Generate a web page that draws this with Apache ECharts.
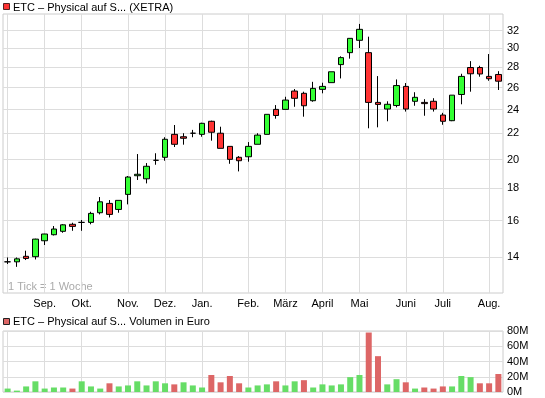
<!DOCTYPE html>
<html>
<head>
<meta charset="utf-8">
<script src="https://cdn.jsdelivr.net/npm/echarts@6/dist/echarts.min.js"></script>
<style>
html,body{margin:0;padding:0;background:#fff;}
#c{width:545px;height:398px;}
</style>
</head>
<body>
<div id="c"></div>
<script>
// Weekly candles (week start dates)
const weeks = [
  '2010-08-02','2010-08-09','2010-08-16','2010-08-23','2010-08-30','2010-09-06','2010-09-13','2010-09-20','2010-09-27','2010-10-04',
  '2010-10-11','2010-10-18','2010-10-25','2010-11-01','2010-11-08','2010-11-15','2010-11-22','2010-11-29','2010-12-06','2010-12-13',
  '2010-12-20','2010-12-27','2011-01-03','2011-01-10','2011-01-17','2011-01-24','2011-01-31','2011-02-07','2011-02-14','2011-02-21',
  '2011-02-28','2011-03-07','2011-03-14','2011-03-21','2011-03-28','2011-04-04','2011-04-11','2011-04-18','2011-04-25','2011-05-02',
  '2011-05-09','2011-05-16','2011-05-23','2011-05-30','2011-06-06','2011-06-13','2011-06-20','2011-06-27','2011-07-04','2011-07-11',
  '2011-07-18','2011-07-25','2011-08-01','2011-08-08'
];
const opens = [13.77,13.77,14.05,14.03,14.87,15.20,15.39,15.79,15.90,15.90,
  16.47,17.04,16.67,17.61,18.85,18.64,19.94,20.16,21.92,21.73,
  22.01,21.92,22.99,22.01,20.98,20.16,20.20,21.14,21.92,24.01,
  24.01,25.67,25.46,24.78,25.83,26.47,28.27,29.53,30.89,29.53,
  24.63,24.04,24.35,26.11,24.73,24.63,24.73,23.52,23.04,25.35,
  27.97,27.97,27.08,27.27];
const closes = [13.77,13.92,13.94,14.96,15.24,15.52,15.76,15.67,15.90,16.43,
  17.14,16.37,17.23,18.76,18.95,19.51,19.94,21.53,21.14,21.61,
  22.01,22.82,22.09,20.83,20.01,19.91,20.98,21.86,23.58,23.48,
  24.84,25.00,24.33,25.92,26.11,27.54,29.00,31.11,32.15,24.63,
  24.45,24.46,26.19,24.04,25.09,24.52,24.04,22.99,25.29,27.08,
  27.34,27.32,26.85,26.61];
const lows = [13.66,13.52,13.86,13.89,14.64,15.16,15.31,15.42,15.42,15.79,
  16.37,16.19,16.47,16.98,18.56,18.33,19.62,19.91,20.93,21.11,
  21.69,21.73,21.42,20.83,19.69,19.15,19.84,21.14,21.92,23.21,
  24.01,24.24,23.38,24.69,25.46,26.47,26.88,28.89,30.03,22.41,
  22.49,22.99,24.19,23.82,24.33,23.46,23.82,22.70,23.00,24.46,
  25.61,27.05,26.65,25.77];
const highs = [13.99,13.99,14.34,14.98,15.25,15.69,15.80,15.88,16.04,16.53,
  17.44,17.25,17.23,18.83,20.40,19.74,20.46,21.69,22.68,22.01,
  22.28,22.87,23.04,22.54,20.98,20.25,21.31,22.01,23.58,24.39,
  25.14,25.86,25.61,26.55,26.46,27.54,29.14,31.11,32.79,31.30,
  27.11,24.73,26.78,26.43,25.56,24.92,25.01,23.71,25.29,27.34,
  28.63,28.15,29.38,27.60];
// Volume in Mio. Euro
const volumes = [4.5,1.8,7.3,14,4.5,5.9,5.9,4.5,14,7.3,
  4.5,11.4,7.3,8.6,14,8.6,14,11.4,10,12.7,
  8.6,5.9,22.3,12.7,21,11.4,5.9,8.6,10,14,
  8.6,14,15.5,5.9,10,8.6,10,19.5,22.3,78,
  47,10,16.8,12.7,4.5,5.9,4.5,7.3,7.3,21,
  19.5,11.4,11.4,23.6];
// Month gridlines (index of the week containing the 1st of the month)
const monthIdx = [0,4,8,13,17,21,26,30,34,38,43,47,52];
const monthNames = ['','Sep.','Okt.','Nov.','Dez.','Jan.','Feb.','März','April','Mai','Juni','Juli','Aug.'];
const priceTicks = [14,16,18,20,22,24,26,28,30,32];
const volumeTicks = [0,20,40,60,80];

const FONT = '"Liberation Sans", Arial, sans-serif';
const candleData = weeks.map((w, i) => [opens[i], closes[i], lows[i], highs[i]]);
const volData = volumes.map((v, i) => ({
  value: v,
  itemStyle: { color: (i === 0 || closes[i] >= closes[i - 1]) ? '#66dd66' : '#dd6666' }
}));
const isMonth = (i) => monthIdx.indexOf(i) >= 0;

function xAxis(gridIndex, showLabels) {
  return {
    type: 'category', gridIndex: gridIndex, data: weeks, boundaryGap: true,
    axisLine: { show: false }, axisTick: { show: false },
    axisLabel: {
      show: showLabels,
      interval: (i) => isMonth(i) && monthNames[monthIdx.indexOf(i)] !== '',
      formatter: (v, i) => monthNames[monthIdx.indexOf(i)] || '',
      color: '#000', fontSize: 11, fontFamily: FONT, margin: 5
    },
    splitLine: { show: true, interval: (i) => isMonth(i), alignWithLabel: true, lineStyle: { color: '#dddddd', width: 1 } }
  };
}

const chart = echarts.init(document.getElementById('c'), null, { renderer: 'canvas' });
chart.setOption({
  animation: false,
  backgroundColor: '#ffffff',
  title: [
    { text: 'ETC – Physical auf S... (XETRA)', left: 13, top: 2, padding: 0,
      textStyle: { fontSize: 11, fontWeight: 'normal', color: '#000', fontFamily: FONT } },
    { text: 'ETC – Physical auf S... Volumen in Euro', left: 13, top: 316, padding: 0,
      textStyle: { fontSize: 11, fontWeight: 'normal', color: '#000', fontFamily: FONT } }
  ],
  graphic: [
    { type: 'rect', shape: { x: 3.5, y: 3.5, width: 6, height: 6 }, style: { fill: '#ff3333', stroke: '#552222', lineWidth: 1 } },
    { type: 'rect', shape: { x: 3.5, y: 318.5, width: 6, height: 6 }, style: { fill: '#dd6666', stroke: '#222222', lineWidth: 1 } },
    { type: 'text', x: 8, y: 281, style: { text: '1 Tick = 1 Woche', fill: '#aaaaaa', font: '11px ' + FONT } }
  ],
  grid: [
    { left: 3, right: 42, top: 14, height: 279, show: true, borderColor: '#cccccc', borderWidth: 1 },
    { left: 3, right: 42, top: 331, height: 61, show: true, borderColor: '#cccccc', borderWidth: 1 }
  ],
  xAxis: [xAxis(0, true), xAxis(1, false)],
  yAxis: [
    {
      type: 'log', gridIndex: 0, position: 'right', min: 12.29, max: 34.0,
      axisLine: { show: false },
      axisTick: { show: false, customValues: priceTicks },
      axisLabel: { customValues: priceTicks, formatter: (v) => String(Math.round(v)), color: '#000', fontSize: 11, fontFamily: FONT, margin: 4 },
      splitLine: { show: true, lineStyle: { color: '#dddddd' } }
    },
    {
      type: 'value', gridIndex: 1, position: 'right', min: 0, max: 80, interval: 20,
      axisLine: { show: false }, axisTick: { show: false },
      axisLabel: { formatter: (v) => v + 'M', color: '#000', fontSize: 11, fontFamily: FONT, margin: 4 },
      splitLine: { show: true, lineStyle: { color: '#dddddd' } }
    }
  ],
  series: [
    {
      type: 'candlestick', xAxisIndex: 0, yAxisIndex: 0, data: candleData, barWidth: 6,
      itemStyle: { color: '#33ff33', color0: '#ff3333', borderColor: '#000', borderColor0: '#000', borderWidth: 1 },
      emphasis: { disabled: true }
    },
    {
      type: 'bar', xAxisIndex: 1, yAxisIndex: 1, data: volData, barWidth: 6,
      emphasis: { disabled: true }
    }
  ]
});
</script>
</body>
</html>
